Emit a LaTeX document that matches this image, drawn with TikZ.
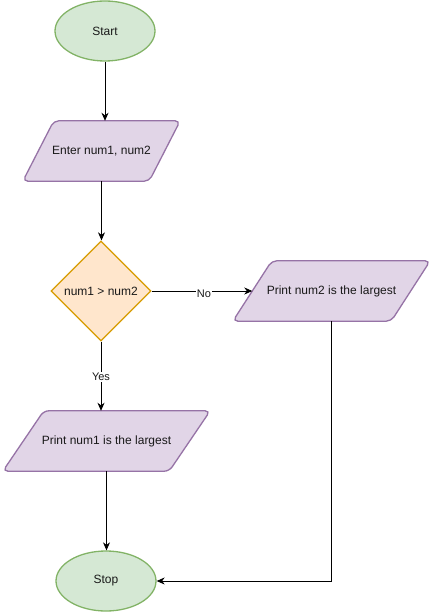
\documentclass[tikz,border=0pt]{standalone}
\usepackage{fontspec}
\setmainfont{Liberation Sans}
\usetikzlibrary{arrows.meta,shapes.geometric,calc}
\pgfdeclarelayer{background}
\pgfsetlayers{background,main}
\definecolor{gfill}{HTML}{D5E8D4}
\definecolor{gline}{HTML}{82B366}
\definecolor{pfill}{HTML}{E1D5E7}
\definecolor{pline}{HTML}{9673A6}
\definecolor{ofill}{HTML}{FFE6CC}
\definecolor{oline}{HTML}{D79B00}
\newcommand\drawpara[2]{%
  \begin{pgfonlayer}{background}
  \draw[parashape] ([xshift=#2pt]#1.north west) -- (#1.north east) -- ([xshift=-#2pt]#1.south east) -- (#1.south west) -- cycle;
  \end{pgfonlayer}}
\begin{document}
\begin{tikzpicture}[x=1pt,y=-1pt,
  every node/.style={font=\fontsize{12}{14}\selectfont, text=black!90},
  term/.style={ellipse, draw=gline, fill=gfill, line width=1.3pt, minimum width=100pt, minimum height=60pt, inner sep=0pt},
  parabox/.style={rectangle, minimum height=60pt, inner sep=0pt},
  parashape/.style={draw=pline, fill=pfill, line width=1.3pt, rounded corners=5pt},
  decision/.style={diamond, draw=oline, fill=ofill, line width=1.3pt, minimum width=100pt, minimum height=100pt, inner sep=0pt},
  edge/.style={draw=black, line width=0.9pt, -{Stealth[length=8pt,width=7pt,inset=2.5pt]}},
  lbl/.style={font=\fontsize{11}{13}\selectfont, fill=white, inner sep=1pt}]
\useasboundingbox (0,0) rectangle (432,612);

\node[term] (start) at (105,31) {Start};
\node[parabox, minimum width=157pt] (enter) at (101.5,151) {Enter num1, num2};
\drawpara{enter}{31}
\node[decision] (dec) at (101,291) {num1 > num2};
\node[parabox, minimum width=197pt] (num2) at (331.5,291) {Print num2 is the largest};
\drawpara{num2}{39}
\node[parabox, minimum width=207pt] (num1) at (106.5,441) {Print num1 is the largest};
\drawpara{num1}{41}
\node[term] (stop) at (106,581) {Stop};
\coordinate (num2in) at ($(num2.west)+(19.5,0)$);

\draw[edge] (start.south) -- (start.south |- enter.north);
\draw[edge] (enter.south) -- (enter.south |- dec.north);
\draw[edge] (dec.east) -- (num2in) node[lbl, pos=0.52, yshift=-2.5pt] {No};
\draw[edge] (dec.south) -- (dec.south |- num1.north) node[lbl, midway, yshift=-1pt] {Yes};
\draw[edge] (num1.south) -- (num1.south |- stop.north);
\draw[edge] (num2.south) |- (stop.east);
\end{tikzpicture}
\end{document}
